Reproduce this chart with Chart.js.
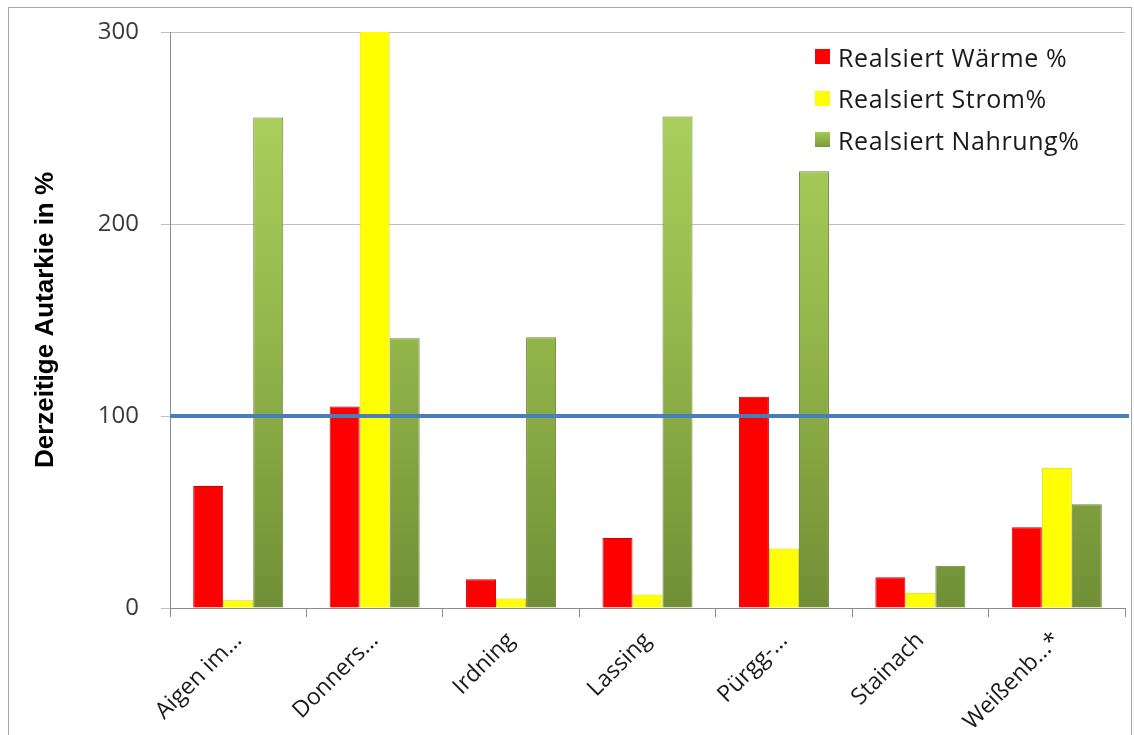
<!DOCTYPE html>
<html>
<head>
<meta charset="utf-8">
<script src="https://cdn.jsdelivr.net/npm/chart.js@4/dist/chart.umd.min.js"></script>
<style>
    html, body { margin: 0; padding: 0; background: #fff; }
    #wrap { position: relative; width: 1134px; height: 735px; }
    #frame { position: absolute; left: 8px; top: 7px; width: 1124px; height: 730px; border: 1px solid #a6a6a6; box-sizing: border-box; pointer-events: none; }
    #legend { position: absolute; left: 815px; top: 36px; font-family: 'Open Sans', sans-serif; font-size: 25px; letter-spacing: 0.6px; color: #1a1a1a; }
    #legend div { display: flex; align-items: center; height: 41.5px; }
    #legend span.box { width: 15px; height: 15px; margin-right: 8px; display: inline-block; }
</style>
</head>
<body>
<div id="wrap">
    <canvas id="chart" width="1134" height="735"></canvas>
    <div id="frame"></div>
    <div id="legend"></div>
</div>
<script>
// Daten
const categories = ['Aigen im...', 'Donners...', 'Irdning', 'Lassing', 'Pürgg-...', 'Stainach', 'Weißenb...*'];
const waerme = [63.5, 105, 15, 36.5, 110, 16, 42];
const strom = [4, 320, 5, 7, 31, 8, 73];
const nahrung = [255.5, 140.5, 141, 256, 227.5, 22, 54];
const yTicks = [0, 100, 200, 300];
const referenceLine = 100;

const seriesLabels = ['Realsiert Wärme %', 'Realsiert Strom%', 'Realsiert Nahrung%'];
const fontFamily = "'Open Sans', sans-serif";

function greenGradient(context) {
    const chart = context.chart;
    const area = chart.chartArea;
    if (!area) return '#8fb04a';
    const g = chart.ctx.createLinearGradient(0, area.top, 0, area.bottom);
    g.addColorStop(0, '#b2d862');
    g.addColorStop(0.5, '#95b84c');
    g.addColorStop(1, '#718f36');
    return g;
}

// Linie bei 100 %
const refLinePlugin = {
    id: 'refLine',
    afterDatasetsDraw(chart) {
        const y = chart.scales.y.getPixelForValue(referenceLine);
        const ctx = chart.ctx;
        ctx.save();
        ctx.strokeStyle = '#4a7ebb';
        ctx.lineWidth = 4;
        ctx.beginPath();
        ctx.moveTo(chart.chartArea.left, y);
        ctx.lineTo(chart.chartArea.right + 4, y);
        ctx.stroke();
        ctx.restore();
    }
};

new Chart(document.getElementById('chart'), {
    type: 'bar',
    data: {
        labels: categories,
        datasets: [
            { label: seriesLabels[0], data: waerme, backgroundColor: '#ff0000', borderColor: '#c80000', borderWidth: 1 },
            { label: seriesLabels[1], data: strom, backgroundColor: '#ffff00', borderColor: '#d8d800', borderWidth: 1 },
            { label: seriesLabels[2], data: nahrung, backgroundColor: greenGradient, borderColor: '#6b8733', borderWidth: 1 }
        ]
    },
    options: {
        responsive: false,
        animation: false,
        layout: { padding: { top: 32, right: 9, left: 0, bottom: 0 } },
        datasets: {
            bar: { categoryPercentage: 0.66, barPercentage: 1.0 }
        },
        plugins: {
            legend: { display: false },
            tooltip: { enabled: false }
        },
        scales: {
            x: {
                grid: { display: true, drawOnChartArea: false, offset: true, color: '#8c8c8c', tickLength: 9 },
                border: { color: '#8c8c8c' },
                ticks: {
                    color: '#1a1a1a',
                    font: { family: fontFamily, size: 23 },
                    maxRotation: 45,
                    minRotation: 45,
                    padding: 10
                },
                afterFit(scale) { scale.height = 127; }
            },
            y: {
                min: 0,
                max: 300,
                afterBuildTicks(scale) { scale.ticks = yTicks.map(v => ({ value: v })); },
                grid: { color: '#bfbfbf', tickLength: 9, drawTicks: true },
                border: { color: '#8c8c8c' },
                ticks: {
                    color: '#3a3a3a',
                    font: { family: fontFamily, size: 24 },
                    padding: 22
                },
                title: {
                    display: true,
                    text: 'Derzeitige Autarkie in %',
                    color: '#000',
                    font: { family: "'Liberation Sans', Arial, sans-serif", size: 26, weight: 'bold' },
                    padding: { top: 30, bottom: 0 }
                },
                afterFit(scale) {
                    scale.width = 170;
                    scale.paddingTop = 16;
                    scale.paddingBottom = 16;
                }
            }
        }
    },
    plugins: [refLinePlugin]
});

// Legende
const legendColors = ['#ff0000', '#ffff00', 'linear-gradient(#a3c955, #7a9a3c)'];
const legendEl = document.getElementById('legend');
seriesLabels.forEach((label, i) => {
    const row = document.createElement('div');
    const box = document.createElement('span');
    box.className = 'box';
    box.style.background = legendColors[i];
    row.appendChild(box);
    row.appendChild(document.createTextNode(label));
    legendEl.appendChild(row);
});
</script>
</body>
</html>
